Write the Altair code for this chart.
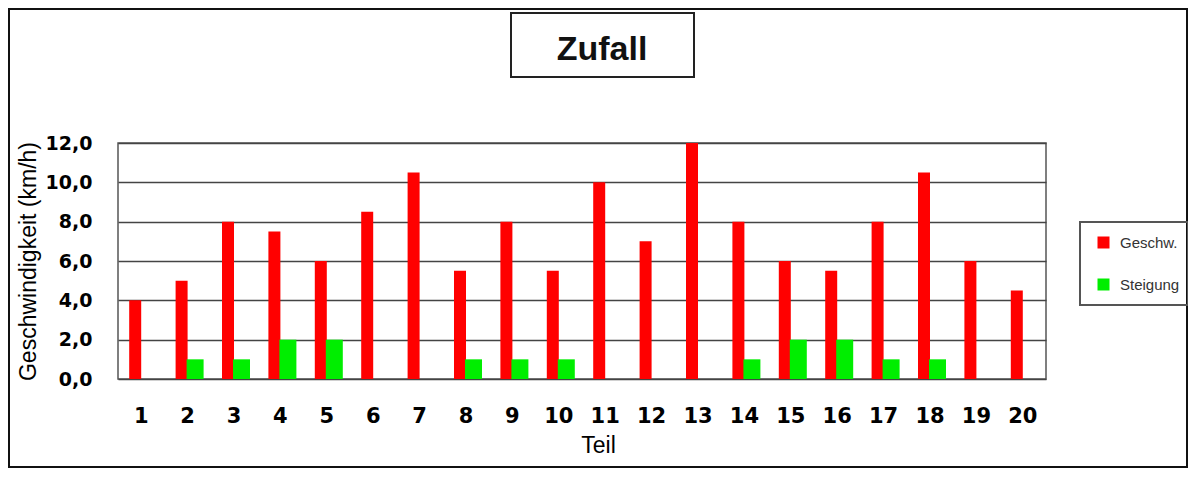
import altair as alt
import pandas as pd

teile = list(range(1, 21))
geschw = [4, 5, 8, 7.5, 6, 8.5, 10.5, 5.5, 8, 5.5, 10, 7, 12, 8, 6, 5.5, 8, 10.5, 6, 4.5]
steigung = [0, 1, 1, 2, 2, 0, 0, 1, 1, 1, 0, 0, 0, 1, 2, 2, 1, 1, 0, 0]
serien = ["Geschw.", "Steigung"]
farben = ["#ff0000", "#00ee00"]
y_ticks = [0, 2, 4, 6, 8, 10, 12]
titel = "Zufall"
x_titel = "Teil"
y_titel = "Geschwindigkeit (km/h)"

df = pd.DataFrame({
    "Teil": teile * 2,
    "Wert": geschw + steigung,
    "Serie": [serien[0]] * len(teile) + [serien[1]] * len(teile),
})

W, H = 928, 236

x_enc = alt.X(
    "Teil:O",
    scale=alt.Scale(paddingInner=0, paddingOuter=0),
    axis=alt.Axis(
        title=x_titel, labelAngle=0, labelFont="DejaVu Sans", labelFontWeight="bold",
        labelFontSize=21, labelColor="black", labelPadding=26, ticks=False, domain=False,
        titleFont="Liberation Sans", titleFontSize=23, titleFontWeight="normal",
        titleColor="black", titleX=480, titleY=73, titleBaseline="alphabetic",
    ),
)
y_enc = alt.Y(
    "Wert:Q",
    scale=alt.Scale(domain=[0, 12], nice=False),
    axis=alt.Axis(
        values=y_ticks, title=y_titel,
        labelExpr="replace(format(datum.value, '.1f'), '.', ',')",
        grid=True, gridColor="#444444", gridWidth=1.5, ticks=False, domain=False,
        labelPadding=26, labelFont="DejaVu Sans", labelFontWeight="bold", labelFontSize=19,
        labelColor="black", titleFont="Liberation Sans", titleFontSize=23,
        titleFontWeight="normal", titleColor="black", titleAngle=270, titleX=-83,
        titleY=118, titleBaseline="alphabetic", titleAlign="center",
    ),
)
legend = alt.Legend(
    orient="none", legendX=978, legendY=92, title=None, symbolType="square",
    symbolSize=144, symbolStrokeWidth=0, labelFont="Liberation Sans", labelFontSize=15,
    labelColor="#333333", labelOffset=9, rowPadding=26, padding=0,
)
color_enc = alt.Color("Serie:N", scale=alt.Scale(domain=serien, range=farben), legend=legend)

rot = alt.Chart(df).transform_filter(alt.datum.Serie == serien[0]).mark_bar(
    width=12, xOffset=-6).encode(x=x_enc, y=y_enc, color=color_enc)
gruen = alt.Chart(df).transform_filter(alt.datum.Serie == serien[1]).mark_bar(
    width=17, xOffset=7.5).encode(x=x_enc, y=y_enc, color=color_enc)

one = pd.DataFrame({"t": [titel]})
rahmen = alt.Chart(one).mark_rect(filled=False, stroke="#111111", strokeWidth=2).encode(
    x=alt.value(-109), x2=alt.value(1069), y=alt.value(-134), y2=alt.value(324))
titelbox = alt.Chart(one).mark_rect(filled=False, stroke="#222222", strokeWidth=2).encode(
    x=alt.value(393), x2=alt.value(576), y=alt.value(-130), y2=alt.value(-66))
titeltext = alt.Chart(one).mark_text(
    font="Liberation Sans", fontSize=34, fontWeight="bold", baseline="alphabetic",
    align="center", color="#111111").encode(x=alt.value(484), y=alt.value(-83), text="t:N")
legendbox = alt.Chart(one).mark_rect(filled=False, stroke="#555555", strokeWidth=2).encode(
    x=alt.value(962), x2=alt.value(1070), y=alt.value(79), y2=alt.value(162))

chart = alt.layer(rahmen, titelbox, titeltext, legendbox, rot, gruen).properties(
    width=W, height=H,
    padding={"left": 110, "top": 135, "right": 142, "bottom": 89},
    autosize=alt.AutoSizeParams(type="none"),
    background="white",
).configure_view(stroke="#555555", strokeWidth=1.5)

chart.save("out.html", embed_options={"renderer": "svg", "actions": False})
